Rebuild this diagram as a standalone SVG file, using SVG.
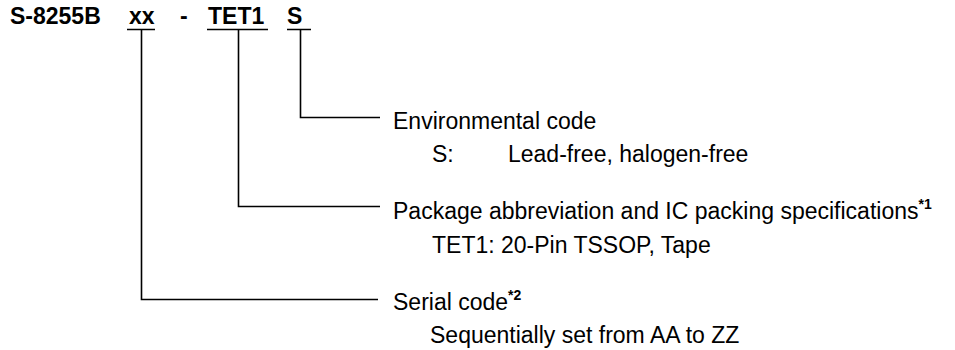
<svg xmlns="http://www.w3.org/2000/svg" width="955" height="350" viewBox="0 0 955 350">
<style>
text{font-family:"Liberation Sans",Arial,sans-serif;fill:#000}
.t{font-size:23px;font-weight:bold}
.r{font-size:23px}
.sup{font-size:14px;font-weight:bold}
.ln{stroke:#000;stroke-width:1.6;fill:none}
</style>
<rect width="955" height="350" fill="#fff"/>
<g id="title">
<text class="t" x="10" y="24">S-8255B</text>
<text class="t" x="129" y="24">xx</text>
<text class="t" x="180" y="24">-</text>
<text class="t" x="208" y="24">TET1</text>
<text class="t" x="287" y="24">S</text>
<path class="ln" d="M127 29.5H155M207 29.5H268M287 29.5H311"/>
</g>
<g id="connectors">
<path class="ln" d="M300.5 29.5V117.5H380"/>
<path class="ln" d="M238.5 29.5V206.5H380"/>
<path class="ln" d="M141.5 29.5V299.5H378"/>
</g>
<g id="env">
<text class="r" x="393" y="129">Environmental code</text>
<text class="r" x="432" y="162">S:</text>
<text class="r" x="508" y="162">Lead-free, halogen-free</text>
</g>
<g id="pkg">
<text class="r" x="393" y="219">Package abbreviation and IC packing specifications<tspan class="sup" dy="-10">*1</tspan></text>
<text class="r" x="432" y="253">TET1: 20-Pin TSSOP, Tape</text>
</g>
<g id="serial">
<text class="r" x="393" y="310">Serial code<tspan class="sup" dy="-10">*2</tspan></text>
<text class="r" x="430" y="343">Sequentially set from AA to ZZ</text>
</g>
</svg>
